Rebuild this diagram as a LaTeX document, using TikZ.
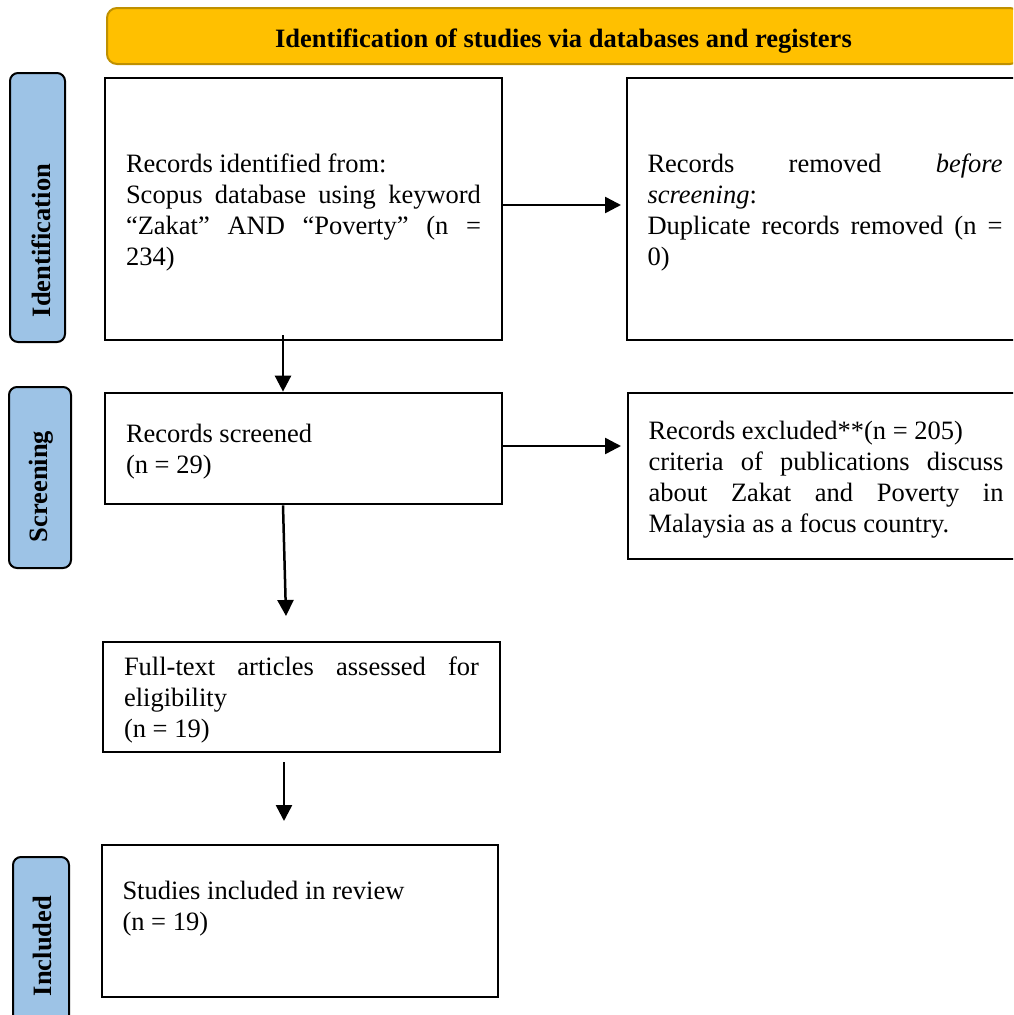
\documentclass[tikz,border=0pt]{standalone}
\usepackage{fontspec}
\setmainfont{Liberation Serif}
\usetikzlibrary{arrows.meta}
\setlength{\parindent}{0pt}
\definecolor{bannerfill}{HTML}{FFC000}
\definecolor{bannerline}{HTML}{BF9000}
\definecolor{labelfill}{HTML}{9DC3E6}
\newcommand{\topstrut}{\rule{0pt}{25pt}}
\begin{document}
\begin{tikzpicture}[x=1pt,y=-1pt,
  txt/.style={font=\fontsize{26.5}{31}\selectfont},
  box/.style={txt, draw=black, line width=2.7pt, text width=355pt, align=justify, inner sep=0pt},
  stagebox/.style={draw=black, line width=2pt, fill=labelfill, rounded corners=8pt, inner sep=0pt},
  stagetext/.style={font=\fontsize{26.5}{31}\selectfont\bfseries, rotate=90, inner sep=0pt},
  banner/.style={font=\fontsize{26.5}{31}\selectfont\bfseries, draw=bannerline, line width=2pt, fill=bannerfill, rounded corners=10pt, inner sep=0pt},
  arr/.style={line width=2.5pt, -{Triangle[length=16pt,width=16pt]}}
]
\useasboundingbox (0,0) rectangle (1013,1015);
\clip (0,0) rectangle (1013,1015);

% banner
\node[banner, minimum width=913pt, minimum height=56pt, text height=22pt, text depth=0pt] (banner) at (563.5,36) {Identification of studies via databases and registers};

% stage labels
\node[stagebox, minimum width=55pt, minimum height=269pt] (idlab) at (37.5,207.5) {};
\node[stagetext] (idtext) at (41.5,240.5) {Identification};
\node[stagebox, minimum width=62pt, minimum height=181pt] (sclab) at (40,477.5) {};
\node[stagetext] (sctext) at (41.5,486.5) {Screening};
\node[stagebox, minimum width=56pt, minimum height=178pt] (inlab) at (41,946) {};
\node[stagetext] (intext) at (42,946) {Included};

% boxes
\node[box, minimum width=397pt, minimum height=262pt] (box1) at (303.5,209)
  {\topstrut Records identified from:\\ Scopus database using keyword\linebreak “Zakat” AND “Poverty” (n =\linebreak 234)};
\node[box, minimum width=396pt, minimum height=262pt] (box2) at (825,209)
  {\topstrut Records removed \textit{before}\linebreak \textit{screening}:\\ Duplicate records removed (n =\linebreak 0)};
\node[box, minimum width=397pt, minimum height=111pt] (box3) at (303.5,448.5)
  {\topstrut Records screened\\ (n = 29)};
\node[box, minimum width=396pt, minimum height=166pt] (box4) at (826,476)
  {\topstrut Records excluded**(n = 205)\\ criteria of publications discuss\linebreak about Zakat and Poverty in\linebreak Malaysia as a focus country.};
\node[box, minimum width=397pt, minimum height=110pt] (box5) at (301.5,697)
  {\topstrut Full-text articles assessed for\linebreak eligibility\\ (n = 19)};
\node[box, minimum width=396pt, minimum height=152pt] (box6) at (300,921)
  {Studies included in review\\ (n = 19)\\ \mbox{}};

% connectors
\coordinate (a1end) at (621,205);
\coordinate (a2end) at (621,446);
\coordinate (a3s) at (283,335);
\coordinate (a4e) at (286,616);
\coordinate (a5s) at (284,762);
\coordinate (a5e) at (284,821);
\draw[arr] (box1.east |- a1end) -- (a1end);
\draw[arr] (box3.east |- a2end) -- (a2end);
\draw[arr] (a3s) -- (a3s |- box3.north);
\draw[arr] (box3.south -| a3s) -- (a4e);
\draw[arr] (a5s) -- (a5e);
\end{tikzpicture}
\end{document}
